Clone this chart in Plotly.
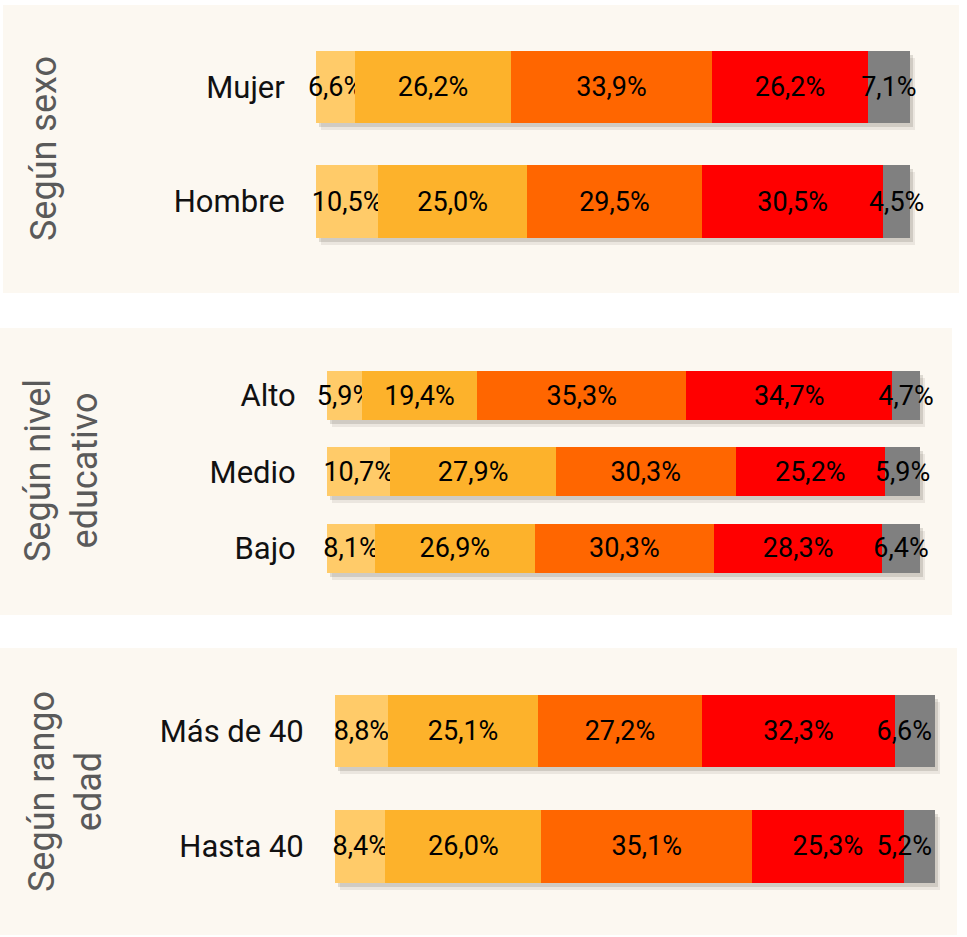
import plotly.graph_objects as go

W, H = 967, 937

# ---------------- data ----------------
sexo_cats = ["Mujer", "Hombre"]
sexo_s1 = [6.6, 10.5]
sexo_s2 = [26.2, 25.0]
sexo_s3 = [33.9, 29.5]
sexo_s4 = [26.2, 30.5]
sexo_s5 = [7.1, 4.5]

edu_cats = ["Alto", "Medio", "Bajo"]
edu_s1 = [5.9, 10.7, 8.1]
edu_s2 = [19.4, 27.9, 26.9]
edu_s3 = [35.3, 30.3, 30.3]
edu_s4 = [34.7, 25.2, 28.3]
edu_s5 = [4.7, 5.9, 6.4]

edad_cats = ["Más de 40", "Hasta 40"]
edad_s1 = [8.8, 8.4]
edad_s2 = [25.1, 26.0]
edad_s3 = [27.2, 35.1]
edad_s4 = [32.3, 25.3]
edad_s5 = [6.6, 5.2]

panel_titles = ["Según sexo", "Según nivel<br>educativo", "Según rango<br>edad"]

# ---------------- styles ----------------
colors = ["#FFCB69", "#FDB22B", "#FF6600", "#FF0000", "#808080"]
panel_bg = "#FCF8F1"
FONT = "Roboto, 'Noto Sans', sans-serif"


def px_x(x):
    return x / W


def px_y(y):
    return 1 - y / H


panels = [
    dict(cats=sexo_cats, series=[sexo_s1, sexo_s2, sexo_s3, sexo_s4, sexo_s5],
         xpx=(316, 910), ypx=(29.75, 258.75), bw=0.637,
         bg=(3, 5, 959, 293), tx=44, ty=149, last_anchor="middle"),
    dict(cats=edu_cats, series=[edu_s1, edu_s2, edu_s3, edu_s4, edu_s5],
         xpx=(327, 920), ypx=(357.3, 586.5), bw=0.64,
         bg=(0, 328, 952, 615), tx=61, ty=471, last_anchor="middle"),
    dict(cats=edad_cats, series=[edad_s1, edad_s2, edad_s3, edad_s4, edad_s5],
         xpx=(335, 935), ypx=(673.35, 903.95), bw=0.63,
         bg=(0, 648, 957, 935), tx=65, ty=792, last_anchor="end"),
]

# shadow layers: (dx, dy, rgba)
shadow_layers = [(5, 7, "rgba(90,80,70,0.10)"), (3, 4, "rgba(70,60,50,0.16)")]

fig = go.Figure()
layout = {}
shapes = []
annotations = []

axis_id = 0


def ax_names(k):
    s = "" if k == 1 else str(k)
    return "xaxis" + s, "yaxis" + s, "x" + s, "y" + s


# shadow axes first (drawn underneath), then main axes
for i, p in enumerate(panels):
    n = len(p["cats"])
    x0, x1 = p["xpx"]
    ytop, ybot = p["ypx"]
    totals = [sum(v) for v in zip(*p["series"])]
    for dx, dy, col in shadow_layers:
        axis_id += 1
        xa, ya, xr, yr = ax_names(axis_id)
        layout[xa] = dict(domain=[px_x(x0 + dx), px_x(x1 + dx)], range=[0, 100],
                          visible=False, anchor=yr, fixedrange=True)
        layout[ya] = dict(domain=[px_y(ybot + dy), px_y(ytop + dy)],
                          range=[n - 0.5, -0.5], type="category",
                          categoryarray=p["cats"], visible=False, anchor=xr,
                          fixedrange=True)
        fig.add_trace(go.Bar(
            x=totals, y=p["cats"], orientation="h", width=p["bw"],
            marker=dict(color=col, line=dict(width=0)),
            xaxis=xr, yaxis=yr, hoverinfo="skip", showlegend=False))

for i, p in enumerate(panels):
    n = len(p["cats"])
    x0, x1 = p["xpx"]
    ytop, ybot = p["ypx"]
    axis_id += 1
    xa, ya, xr, yr = ax_names(axis_id)
    layout[xa] = dict(domain=[px_x(x0), px_x(x1)], range=[0, 100],
                      visible=False, anchor=yr, fixedrange=True)
    layout[ya] = dict(
        domain=[px_y(ybot), px_y(ytop)], range=[n - 0.5, -0.5],
        type="category", categoryarray=p["cats"], anchor=xr,
        showgrid=False, zeroline=False, showline=False,
        ticks="outside", ticklen=24, tickcolor="rgba(0,0,0,0)",
        tickfont=dict(family=FONT, size=31, color="#111111"), fixedrange=True)

    for k, vals in enumerate(p["series"]):
        anchor = p["last_anchor"] if k == 4 else "middle"
        fig.add_trace(go.Bar(
            x=vals, y=p["cats"], orientation="h", width=p["bw"],
            marker=dict(color=colors[k], line=dict(width=0)),
            texttemplate="%{x:.1f}%", textposition="inside",
            insidetextanchor=anchor, textangle=0, constraintext="none",
            cliponaxis=False,
            textfont=dict(family=FONT, size=27, color="#000000"),
            xaxis=xr, yaxis=yr, hoverinfo="skip", showlegend=False))

    bx0, by0, bx1, by1 = p["bg"]
    shapes.append(dict(type="rect", xref="paper", yref="paper",
                       x0=px_x(bx0), x1=px_x(bx1), y0=px_y(by1), y1=px_y(by0),
                       fillcolor=panel_bg, line=dict(width=0), layer="below"))
    annotations.append(dict(
        text=panel_titles[i], xref="paper", yref="paper",
        x=px_x(p["tx"]), y=px_y(p["ty"]), xanchor="center", yanchor="middle",
        textangle=-90, showarrow=False, align="center",
        font=dict(family=FONT, size=36, color="#5A5A5A")))

fig.update_layout(
    width=W, height=H, margin=dict(l=0, r=0, t=0, b=0),
    paper_bgcolor="#FFFFFF", plot_bgcolor="rgba(0,0,0,0)",
    barmode="stack", showlegend=False, separators=",.",
    shapes=shapes, annotations=annotations,
    **layout)

fig.write_html("out.html", config={"displayModeBar": False},
               post_script="document.body.style.margin='0';document.body.style.padding='0';")
